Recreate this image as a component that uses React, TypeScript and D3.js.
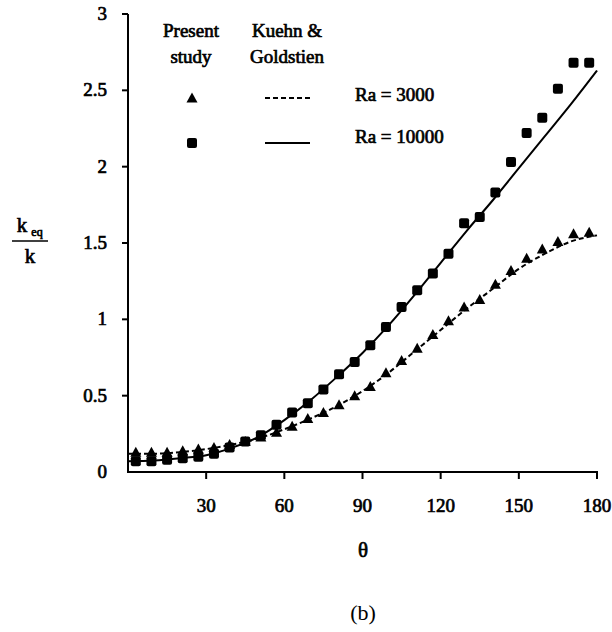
import React from 'react'
import * as d3 from 'd3'

// measured points, every 6 degrees from 3 to 177
const thetaPts = [3, 9, 15, 21, 27, 33, 39, 45, 51, 57, 63, 69, 75, 81, 87, 93, 99, 105, 111, 117, 123, 129, 135, 141, 147, 153, 159, 165, 171, 177]
const ra3000 = [0.13, 0.13, 0.13, 0.14, 0.15, 0.16, 0.18, 0.2, 0.23, 0.26, 0.3, 0.35, 0.39, 0.44, 0.5, 0.56, 0.65, 0.73, 0.81, 0.9, 0.99, 1.08, 1.13, 1.23, 1.32, 1.4, 1.46, 1.51, 1.56, 1.57]
const ra10000 = [0.07, 0.07, 0.08, 0.09, 0.1, 0.12, 0.16, 0.2, 0.24, 0.31, 0.39, 0.45, 0.54, 0.64, 0.72, 0.83, 0.95, 1.08, 1.19, 1.3, 1.43, 1.63, 1.67, 1.83, 2.03, 2.22, 2.32, 2.51, 2.68, 2.68]

// Kuehn & Goldstien curves
const thetaCurve = [0, 10, 20, 30, 40, 50, 60, 70, 80, 90, 100, 110, 120, 130, 140, 150, 160, 170, 180]
const kg3000 = [0.12, 0.12, 0.13, 0.15, 0.18, 0.22, 0.28, 0.35, 0.43, 0.53, 0.65, 0.79, 0.93, 1.07, 1.2, 1.33, 1.43, 1.51, 1.55]
const kg10000 = [0.07, 0.075, 0.09, 0.11, 0.16, 0.23, 0.34, 0.47, 0.62, 0.78, 0.96, 1.16, 1.37, 1.58, 1.78, 1.99, 2.2, 2.41, 2.63]

const xTicks = [30, 60, 90, 120, 150, 180]
const yTicks = [0, 0.5, 1, 1.5, 2, 2.5, 3]

const font = 'Liberation Serif, Times New Roman, serif'

export default function App() {
    const x = d3.scaleLinear().domain([0, 180]).range([128, 597])
    const y = d3.scaleLinear().domain([0, 3]).range([472, 14])

    const line = d3.line<[number, number]>()
        .x(d => x(d[0]))
        .y(d => y(d[1]))
        .curve(d3.curveMonotoneX)

    const dashedPath = line(thetaCurve.map((t, i) => [t, kg3000[i]] as [number, number])) || ''
    const solidPath = line(thetaCurve.map((t, i) => [t, kg10000[i]] as [number, number])) || ''

    const tri = (cx: number, cy: number) =>
        `M${cx},${cy - 5.5}L${cx + 5.5},${cy + 4.5}L${cx - 5.5},${cy + 4.5}Z`

    // scanned text looks heavy, so give it a thin outline
    const txt = {fontFamily: font, fill: 'black', stroke: 'black', strokeWidth: 0.7}

    return (
        <svg width={612} height={632} style={{position: 'absolute', left: 0, top: 0, background: 'white'}}>
            {/* axes */}
            <line x1={128} x2={128} y1={y(3)} y2={y(0) + 1} stroke='black' strokeWidth={2} />
            <line x1={127} x2={x(180) + 1} y1={y(0)} y2={y(0)} stroke='black' strokeWidth={2} />
            {yTicks.map(t => (
                <g key={'y' + t}>
                    {t > 0 && <line x1={122} x2={128} y1={y(t)} y2={y(t)} stroke='black' strokeWidth={2} />}
                    <text x={107} y={y(t) + 6} textAnchor='end' fontSize={19} style={txt}>{t}</text>
                </g>
            ))}
            {xTicks.map(t => (
                <g key={'x' + t}>
                    <line x1={x(t)} x2={x(t)} y1={y(0)} y2={y(0) + 7} stroke='black' strokeWidth={2} />
                    <text x={x(t)} y={512} textAnchor='middle' fontSize={19} style={txt}>{t}</text>
                </g>
            ))}

            {/* curves */}
            <path d={dashedPath} fill='none' stroke='black' strokeWidth={2} strokeDasharray='5,3' />
            <path d={solidPath} fill='none' stroke='black' strokeWidth={2} />

            {/* points */}
            {thetaPts.map((t, i) => (
                <path key={'t' + t} d={tri(x(t), y(ra3000[i]))} fill='black' />
            ))}
            {thetaPts.map((t, i) => (
                <rect key={'s' + t} x={x(t) - 5} y={y(ra10000[i]) - 5} width={10} height={10} rx={2} fill='black' />
            ))}

            {/* legend */}
            <text x={191} y={37} textAnchor='middle' fontSize={19} style={txt}>Present</text>
            <text x={191} y={63} textAnchor='middle' fontSize={19} style={txt}>study</text>
            <text x={287} y={37} textAnchor='middle' fontSize={19} style={txt}>Kuehn &amp;</text>
            <text x={287} y={63} textAnchor='middle' fontSize={19} style={txt}>Goldstien</text>
            <path d={tri(192, 98)} fill='black' />
            <rect x={187} y={138} width={10} height={10} rx={2} fill='black' />
            <line x1={265} x2={310} y1={98} y2={98} stroke='black' strokeWidth={2} strokeDasharray='5,3' />
            <line x1={265} x2={310} y1={143} y2={143} stroke='black' strokeWidth={2} />
            <text x={355} y={101} fontSize={19} style={txt}>Ra = 3000</text>
            <text x={355} y={143} fontSize={19} style={txt}>Ra = 10000</text>

            {/* y label */}
            <text x={22} y={232} textAnchor='middle' fontSize={21} style={txt}>k</text>
            <text x={37} y={236} textAnchor='middle' fontSize={12} style={txt}>eq</text>
            <line x1={12} x2={48} y1={241} y2={241} stroke='black' strokeWidth={1.5} />
            <text x={30} y={263} textAnchor='middle' fontSize={21} style={txt}>k</text>

            {/* x label and caption */}
            <text x={363} y={557} textAnchor='middle' fontSize={21} style={txt}>θ</text>
            <text x={363} y={620} textAnchor='middle' fontSize={22} style={{fontFamily: font}}>(b)</text>
        </svg>
    )
}
